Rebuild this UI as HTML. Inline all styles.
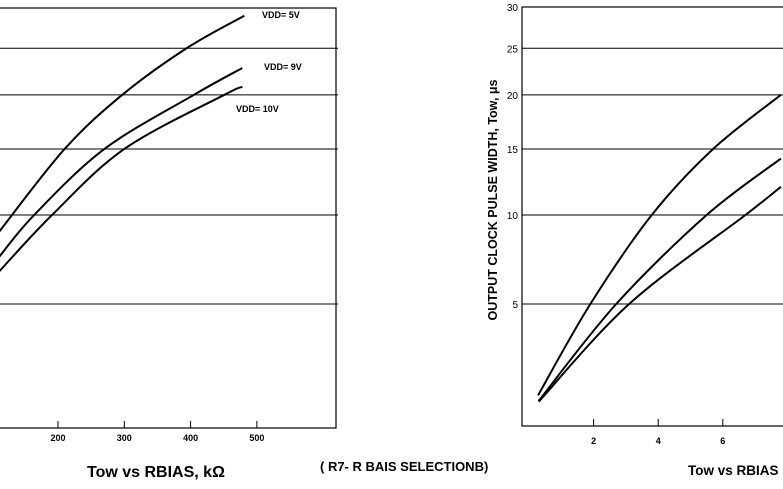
<!DOCTYPE html>
<html><head><meta charset="utf-8"><style>
body{margin:0;background:#fff;width:783px;height:489px;overflow:hidden}
svg{display:block;font-family:"Liberation Sans",Arial,sans-serif}
</style></head><body>
<svg id="s" width="783" height="489"></svg>
<script>
const yTicks=[5,10,15,20,25,30];
const leftXTicks=[100,200,300,400,500];
const rightXTicks=[2,4,6,8];
const leftX5=[111,210,297,394,481];
const leftY5=[8.9,15,20,25,28.9];
const leftX9=[111,164,270,405,478];
const leftY9=[7.4,10,15,20,22.8];
const leftX10=[111,191,300,451,478];
const leftY10=[6.6,10,15,20,20.8];
const rightXa=[0.28,1.9,3.8,5.7,7.8];
const rightYa=[1.74,5,10,15,20];
const rightXb=[0.3,2.7,5.5,7.8];
const rightYb=[1.6,5,10,14.2];
const rightXc=[0.3,3.1,6.7,7.8];
const rightYc=[1.58,5,10,12.0];
const labels=["VDD= 5V","VDD= 9V","VDD= 10V"];

const NS="http://www.w3.org/2000/svg";
const svg=document.getElementById('s');
function el(t,a,p){const e=document.createElementNS(NS,t);for(const k in a)e.setAttribute(k,a[k]);(p||svg).appendChild(e);return e;}
function yS(v){const s=Math.sqrt(v);return 532.5-106.5*s+1.93*s*s;}
const xL=v=>58+(v-200)*0.663;
const xR=v=>529+v*32.3;
function path(xs,ys,xf){
  const p=xs.map((x,i)=>[xf(x),yS(ys[i])]);
  let d="M"+p[0][0]+","+p[0][1];
  for(let i=0;i<p.length-1;i++){
    const p0=p[i-1]||p[i],p1=p[i],p2=p[i+1],p3=p[i+2]||p2;
    d+=" C"+(p1[0]+(p2[0]-p0[0])/6)+","+(p1[1]+(p2[1]-p0[1])/6)+" "+(p2[0]-(p3[0]-p1[0])/6)+","+(p2[1]-(p3[1]-p1[1])/6)+" "+p2[0]+","+p2[1];
  }
  return d;
}
const defs=el('defs',{});
const c1=el('clipPath',{id:'cl'},defs);el('rect',{x:-10,y:8,width:346,height:420},c1);
const c2=el('clipPath',{id:'cr'},defs);el('rect',{x:522,y:7,width:270,height:419},c2);

// left chart
const gL=el('g',{});
el('rect',{x:-10,y:8,width:346,height:420,fill:'none',stroke:'#000','stroke-width':1.2},gL);
yTicks.slice(0,5).forEach(v=>{const l=el('line',{x1:0,x2:338,y1:yS(v),y2:yS(v),stroke:'#000','stroke-width':1},gL);});
leftXTicks.forEach(v=>{el('line',{x1:xL(v),x2:xL(v),y1:428,y2:421,stroke:'#000'},gL);
 const t=el('text',{x:xL(v),y:441,'font-size':9,'font-weight':'bold','text-anchor':'middle'},gL);t.textContent=v;});
[[leftX5,leftY5],[leftX9,leftY9],[leftX10,leftY10]].forEach((s,i)=>{const p=el('path',{d:path(s[0],s[1],xL),fill:'none',stroke:'#000','stroke-width':2,'clip-path':'url(#cl)'},gL);});
[[262,18],[264,70],[236,112]].forEach((p,i)=>{const t=el('text',{x:p[0],y:p[1],'font-size':9,'font-weight':'bold'},gL);t.textContent=labels[i];});
let t=el('text',{x:87,y:477,'font-size':16,'font-weight':'bold'});t.textContent="Tow vs RBIAS, kΩ";
t=el('text',{x:320,y:471,'font-size':13,'font-weight':'bold'});t.textContent="( R7- R BAIS SELECTIONB)";

// right chart
const gR=el('g',{});
el('rect',{x:522,y:7,width:300,height:419,fill:'none',stroke:'#000','stroke-width':1.2},gR);
yTicks.forEach(v=>{if(v<30){const l=el('line',{x1:522,x2:783,y1:yS(v),y2:yS(v),stroke:'#000'},gR);}
 const t=el('text',{x:518,y:Math.max(yS(v),7)+4,'font-size':10,'text-anchor':'end'},gR);t.textContent=v;});
rightXTicks.forEach(v=>{el('line',{x1:xR(v),x2:xR(v),y1:426,y2:419,stroke:'#000'},gR);
 const t=el('text',{x:xR(v),y:444,'font-size':9,'font-weight':'bold','text-anchor':'middle'},gR);t.textContent=v;});
[[rightXa,rightYa],[rightXb,rightYb],[rightXc,rightYc]].forEach((s,i)=>{const p=el('path',{d:path(s[0],s[1],xR),fill:'none',stroke:'#000','stroke-width':2,'clip-path':'url(#cr)'},gR);});
t=el('text',{x:0,y:0,'font-size':12.5,'font-weight':'bold','text-anchor':'middle',transform:'translate(497,200) rotate(-90)'});t.textContent="OUTPUT CLOCK PULSE WIDTH, Tow,  μs";
t=el('text',{x:688,y:475,'font-size':13.5,'font-weight':'bold'});t.textContent="Tow vs RBIAS";
</script>
</body></html>
